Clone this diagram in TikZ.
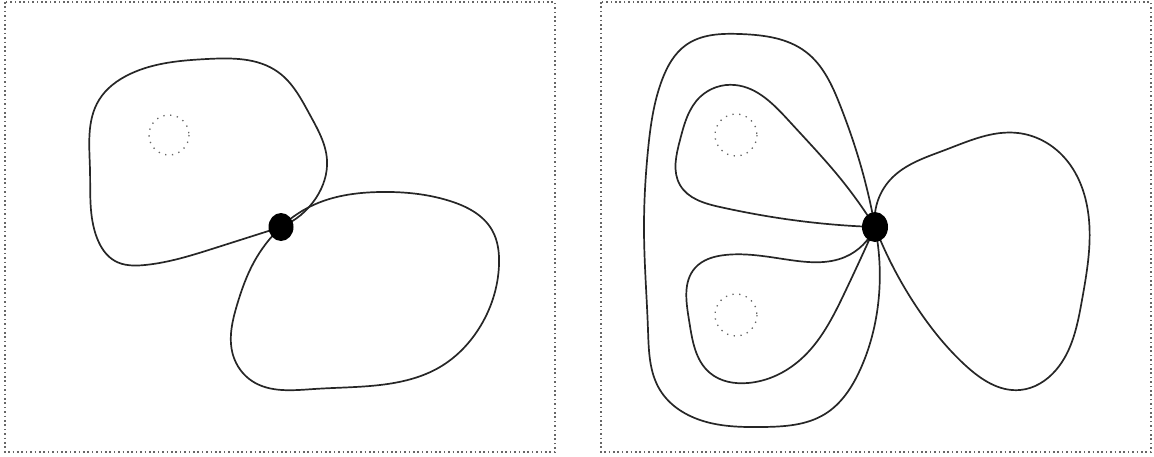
\documentclass[tikz,border=0pt]{standalone}
\usepackage{tikz}
\usetikzlibrary{hobby}

\begin{document}
\begin{tikzpicture}[x=1pt, y=-1pt, use Hobby shortcut,
  loop/.style={line width=1.7pt, black!85, line join=round},
  frame/.style={black!60, line width=1.6pt, dash pattern=on 1.6pt off 2.8pt},
  hole/.style={black!60, line width=1.3pt, dash pattern=on 1.3pt off 5.5pt}]
  \useasboundingbox (0,0) rectangle (1154,456);
  % Frames
  \draw[frame] (5,2) rectangle (555,452);
  \draw[frame] (601,2) rectangle (1151,452);
  % Left: two loops through one point
  \coordinate (L) at (281,227);
  \draw[loop] (L) .. (316,198) .. (327,160) .. (310,115) .. (278,72) .. (207,59) .. (130,74)
    .. (99,100) .. (90,170) .. (97,238) .. (115,261) .. (145,265) .. (215,248) .. (L);
  \draw[loop] (L) .. (318,203) .. (380,192) .. (450,201) .. (492,230) .. (499,265) .. (478,330)
    .. (440,367) .. (380,385) .. (314,389) .. (252,381) .. (233,355) .. (237,305) .. (254,262) .. (L);
  \draw[hole] (169,135) circle (20);
  \fill (L) ellipse (12.5 and 14);
  % Right: four loops through one point
  \coordinate (R) at (875,227);
  \draw[loop] (R) .. (862,170) .. (840,105) .. (806,52) .. (740,34) .. (686,45) .. (662,80)
    .. (648,150) .. (644,230) .. (648,330) .. (660,390) .. (700,420) .. (762,427) .. (825,414)
    .. (860,370) .. (878,305) .. (R);
  \draw[loop] (R) .. (840,178) .. (790,122) .. (735,85) .. (700,97) .. (680,140) .. (680,185)
    .. (720,207) .. (800,221) .. (R);
  \draw[loop] (R) .. (845,257) .. (790,260) .. (725,255) .. (695,268) .. (689,320) .. (710,373)
    .. (748,383) .. (800,360) .. (845,292) .. (R);
  \draw[loop] (R) .. (890,180) .. (945,150) .. (1018,133) .. (1062,155) .. (1089,220)
    .. (1082,300) .. (1056,370) .. (1020,390) .. (965,365) .. (920,312) .. (R);
  \draw[hole] (736,135) circle (21);
  \draw[hole] (736,315) circle (21);
  \fill (R) ellipse (13 and 15);
\end{tikzpicture}
\end{document}
